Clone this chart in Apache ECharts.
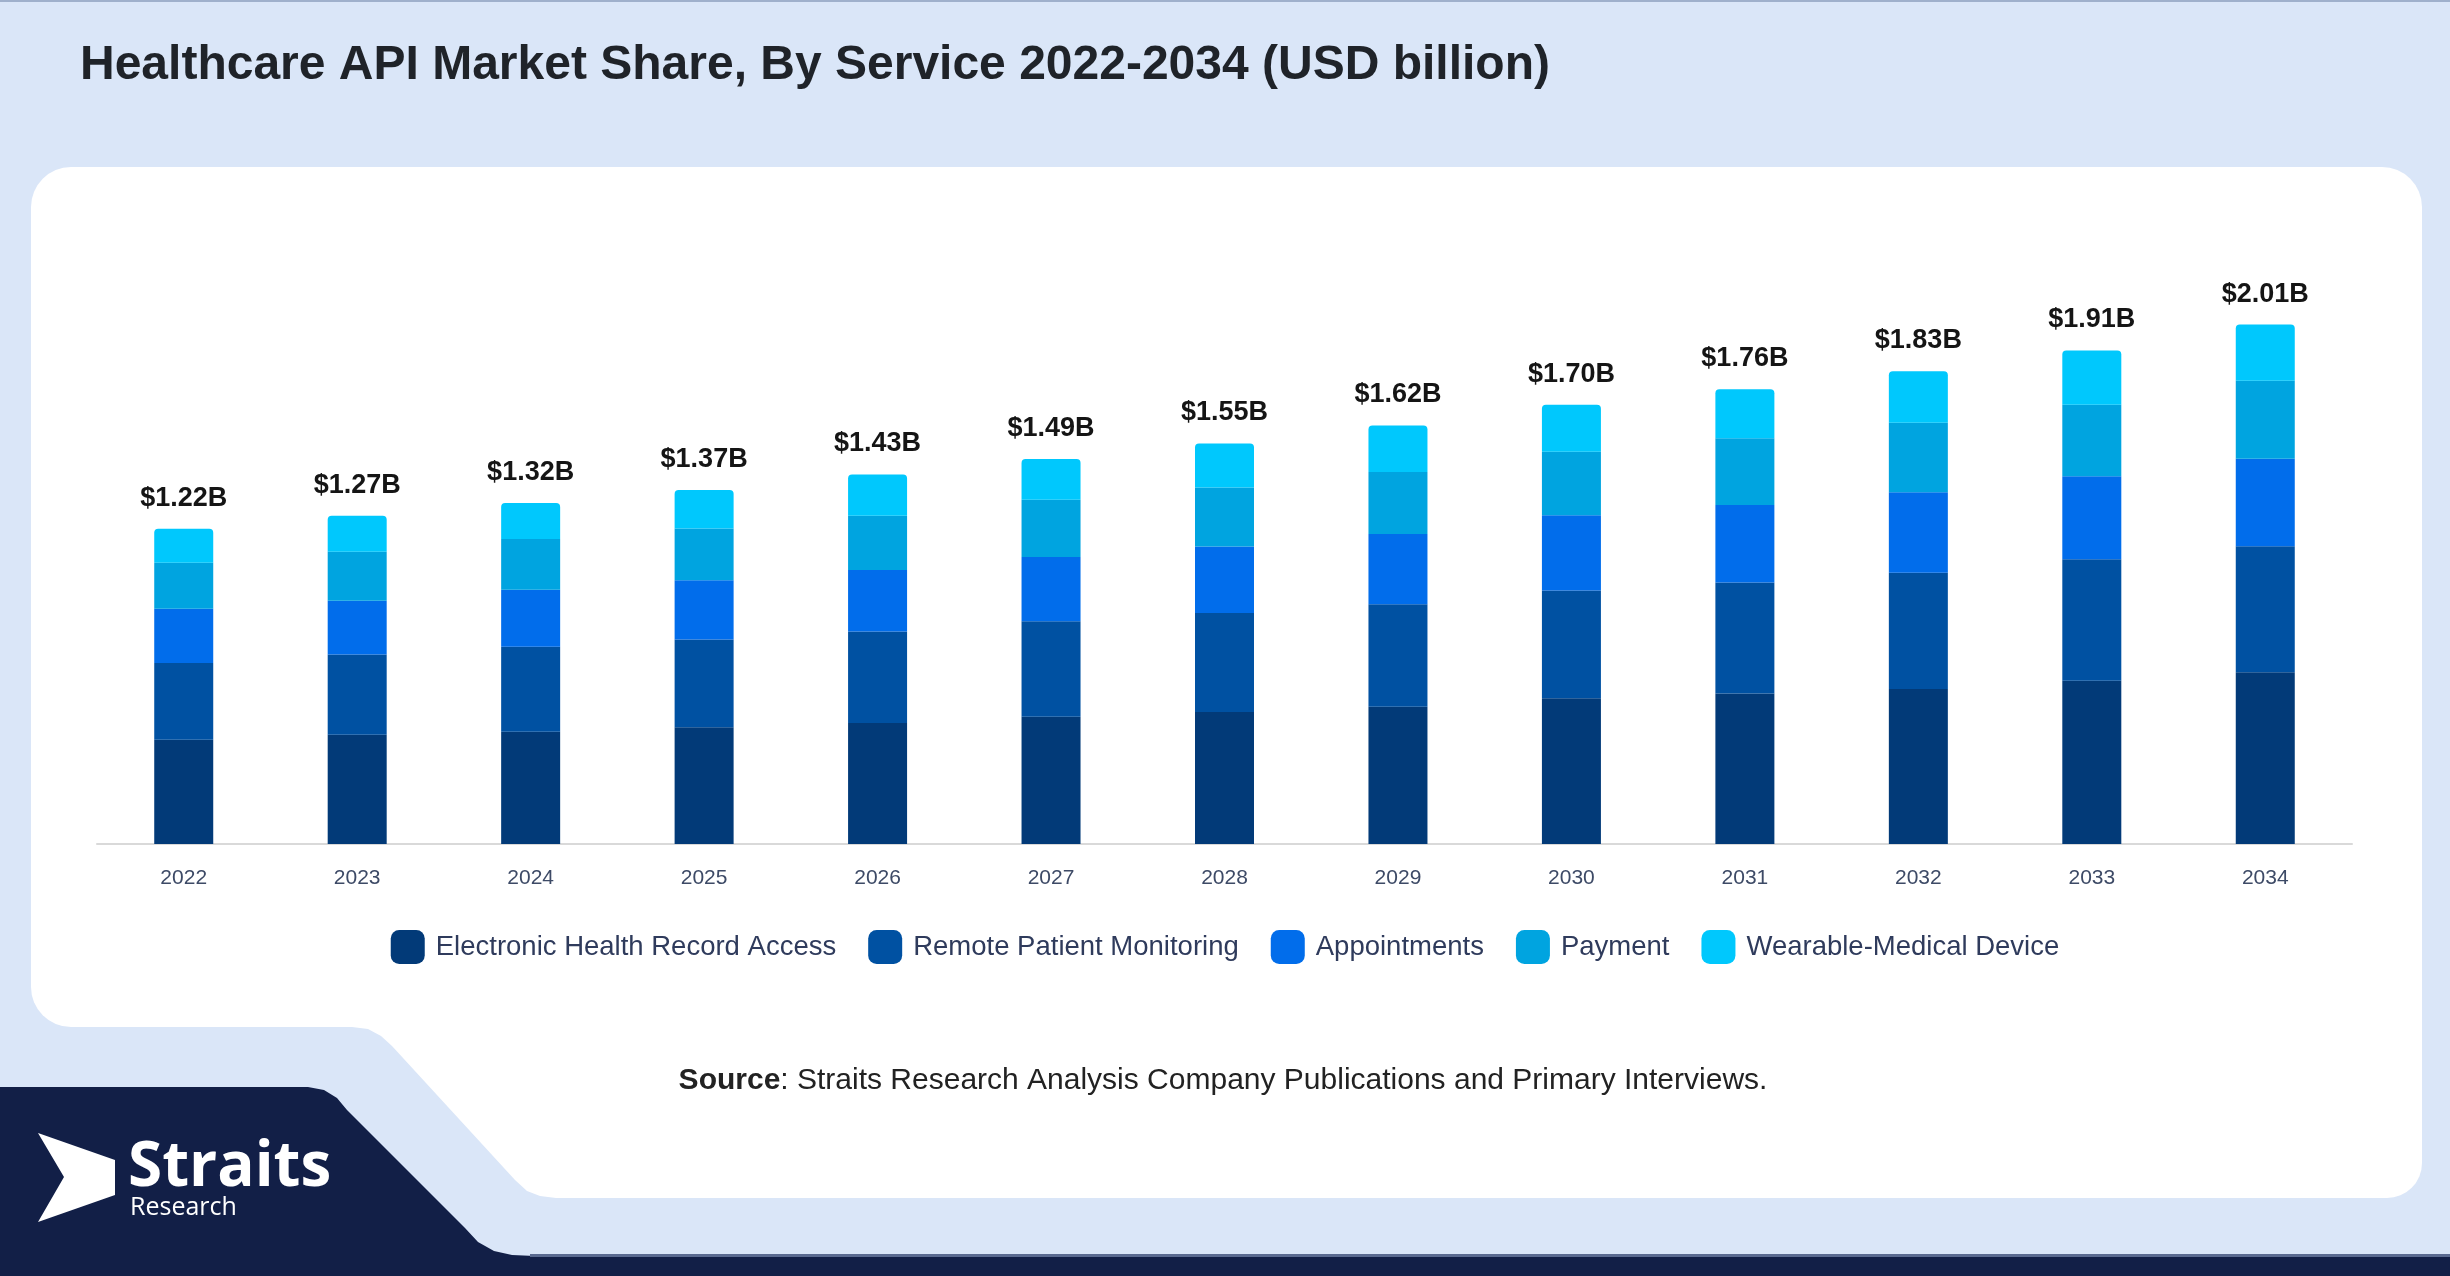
<!DOCTYPE html>
<html>
<head>
<meta charset="utf-8">
<script src="https://cdn.jsdelivr.net/npm/echarts@6/dist/echarts.min.js"></script>
<style>
html,body{margin:0;padding:0;background:#dae6f8;}
#chart{width:2450px;height:1276px;}
</style>
</head>
<body>
<div id="chart"></div>
<script>
const years = ['2022','2023','2024','2025','2026','2027','2028','2029','2030','2031','2032','2033','2034'];
const ehrAccess = [0.403,0.423,0.434,0.452,0.468,0.492,0.511,0.531,0.564,0.582,0.600,0.632,0.665];
const remoteMonitoring = [0.297,0.310,0.329,0.339,0.354,0.370,0.383,0.397,0.417,0.430,0.450,0.470,0.487];
const appointments = [0.210,0.208,0.221,0.230,0.238,0.249,0.257,0.272,0.291,0.300,0.311,0.321,0.339];
const payment = [0.178,0.190,0.196,0.200,0.210,0.221,0.229,0.240,0.246,0.258,0.269,0.277,0.302];
const wearable = [0.132,0.139,0.140,0.149,0.160,0.158,0.170,0.180,0.182,0.190,0.200,0.210,0.217];
const totals = [1.22,1.27,1.32,1.37,1.43,1.49,1.55,1.62,1.70,1.76,1.83,1.91,2.01];
const seriesNames = ['Electronic Health Record Access','Remote Patient Monitoring','Appointments','Payment','Wearable-Medical Device'];
const colors = ['#023a78','#0051a2','#016deb','#00a4e0','#00c8fd'];

const chart = echarts.init(document.getElementById('chart'));
const font = 'Liberation Sans, Arial, sans-serif';
const seriesData = [ehrAccess, remoteMonitoring, appointments, payment, wearable];

const series = seriesData.map((d, i) => {
  const s = {
    name: seriesNames[i],
    type: 'bar',
    stack: 'total',
    barWidth: 59,
    data: d,
    itemStyle: {color: colors[i]},
    emphasis: {disabled: true}
  };
  if (i === seriesData.length - 1) {
    s.itemStyle.borderRadius = [4,4,0,0];
    s.label = {
      show: true,
      position: 'top',
      distance: 17,
      formatter: p => '$' + totals[p.dataIndex].toFixed(2) + 'B',
      fontFamily: font,
      fontWeight: 'bold',
      fontSize: 27,
      color: '#151515'
    };
  }
  return s;
});

chart.setOption({
  backgroundColor: '#dae6f8',
  animation: false,
  title: {
    text: 'Healthcare API Market Share, By Service 2022-2034 (USD billion)',
    left: 75,
    top: 37,
    textStyle: {fontFamily: font, fontWeight: 'bold', fontSize: 48, color: '#1f2329'}
  },
  graphic: [
    {type:'rect', z:-20, shape:{x:0,y:0,width:2450,height:2}, style:{fill:'#9fb0cc'}},
    {type:'rect', z:-20, shape:{x:31,y:167,width:2391,height:860,r:40}, style:{fill:'#ffffff'}},
    {type:'rect', z:-20, shape:{x:590,y:600,width:1832,height:598,r:[0,0,35,0]}, style:{fill:'#ffffff'}},
    {type:'polygon', z:-20, shape:{points:[[300,1000],[352,1027],[368,1029],[381,1036],[392,1046],[515,1180],[527,1191],[540,1196],[556,1198],[600,1198],[600,1000]]}, style:{fill:'#ffffff'}},
    {type:'polygon', z:-19, shape:{points:[[0,1087],[308,1087],[324,1090],[337,1098],[347,1110],[465,1228],[478,1242],[494,1251],[512,1255],[535,1256],[2450,1256],[2450,1276],[0,1276]]}, style:{fill:'#121f47'}},
    {type:'rect', z:-18, shape:{x:530,y:1254,width:1920,height:3}, style:{fill:'#5a6a90'}},
    {type:'polygon', z:-10, shape:{points:[[38,1133],[115,1160],[115,1195],[38,1222],[64,1177]]}, style:{fill:'#ffffff'}},
    {type:'text', z:-10, style:{text:'Straits', x:128, y:1199, textVerticalAlign:'bottom', font:'bold 62px "Open Sans", sans-serif', fill:'#ffffff'}},
    {type:'text', z:-10, style:{text:'Research', x:130, y:1208, textVerticalAlign:'middle', font:'25px "Open Sans", sans-serif', fill:'#ffffff'}},
    {type:'text', z:-10, style:{
      text:'{b|Source}: Straits Research Analysis Company Publications and Primary Interviews.',
      x:1223, y:1081, textAlign:'center', textVerticalAlign:'middle',
      fontFamily: font, fontSize: 30, fill:'#222222',
      rich:{b:{fontWeight:'bold', fontFamily: font, fontSize:30, fill:'#222222'}}
    }}
  ],
  legend: {
    data: seriesNames,
    left: 'center',
    top: 925,
    icon: 'roundRect',
    itemWidth: 34,
    itemHeight: 34,
    itemGap: 32,
    textStyle: {fontFamily: font, fontSize: 27.5, color: '#2f3b5c', padding: [0,0,0,6]},
    selectedMode: false
  },
  grid: {left: 97, right: 98, top: 198, bottom: 432, containLabel: false},
  xAxis: {
    type: 'category',
    data: years,
    axisTick: {show: false},
    axisLine: {lineStyle: {color: '#d9d9d9', width: 2}},
    axisLabel: {margin: 24, fontFamily: font, fontSize: 21, color: '#3d4a66'}
  },
  yAxis: {
    type: 'value',
    min: 0,
    max: 2.5,
    show: false,
    splitLine: {show: false}
  },
  series: series
});
</script>
</body>
</html>
